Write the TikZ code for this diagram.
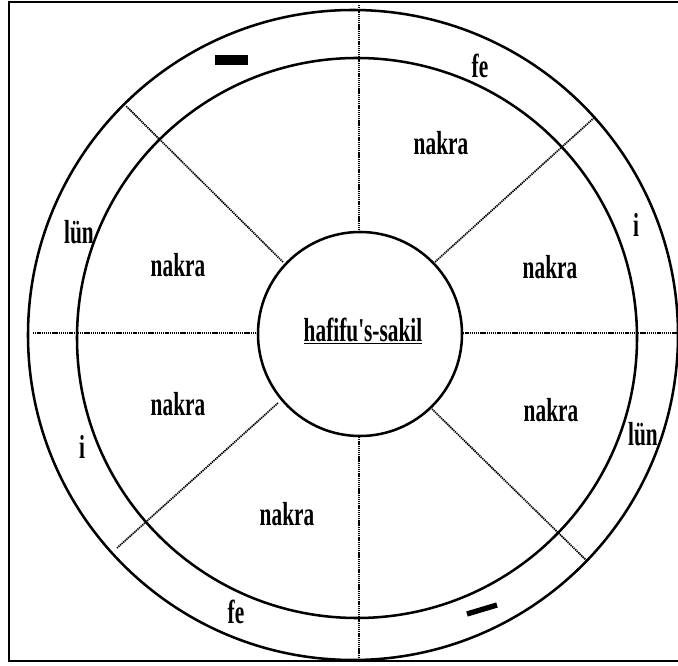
\documentclass[tikz,border=0pt]{standalone}
\usepackage{fontspec}
\newfontfamily\labfont[FakeStretch=0.64]{Liberation Serif}
\begin{document}
\begin{tikzpicture}[x=0.75pt,y=-0.75pt,
  ring/.style={line width=1.9pt},
  divider/.style={line width=1.3pt, dash pattern=on 1pt off 0.6pt},
  lab/.style={font=\labfont\bfseries\fontsize{25}{27}\selectfont, inner sep=0pt},
  bar/.style={line width=4pt}]
\useasboundingbox (0,0) rectangle (678,666);
\fill[white] (0,0) rectangle (678,666);
% frame
\draw[line width=1.8pt] (680,2) -- (9,2) -- (9,661) -- (680,661);
% circles
\draw[ring] (353,335) circle [radius=325];
\draw[ring] (357,338) circle [radius=280];
\node[draw, circle, line width=1.9pt, minimum size=204*0.75pt, inner sep=0pt] (hub) at (360,334) {};
% dividers
\coordinate (C) at (359,333);
\coordinate (vt) at (359,5);    \coordinate (vta) at (359,231);
\coordinate (vb) at (359,661);  \coordinate (vba) at (359,437);
\coordinate (hl) at (33,333);   \coordinate (hla) at (258,333);
\coordinate (hr) at (678,333);  \coordinate (hra) at (461,333);
\draw[divider] (vt) -- (vta);
\draw[divider] (vba) -- (vb);
\draw[divider] (hl) -- (hla);
\draw[divider] (hra) -- (hr);
\coordinate (nwa) at (283,262); \coordinate (nwb) at (126,106);
\coordinate (nea) at (435,262); \coordinate (neb) at (595,117);
\coordinate (swa) at (278,403); \coordinate (swb) at (117,548);
\coordinate (sea) at (432,409); \coordinate (seb) at (586,560);
\draw[divider] (nwa) -- (nwb);
\draw[divider] (nea) -- (neb);
\draw[divider] (swa) -- (swb);
\draw[divider] (sea) -- (seb);
% center label
\node[lab] (center) at (363,331) {\underline{hafifu's-sakil}};
% sector labels
\node[lab] (n1) at (441,143) {nakra};
\node[lab] (n2) at (550,267) {nakra};
\node[lab] (n3) at (551,410) {nakra};
\node[lab] (n4) at (287,514) {nakra};
\node[lab] (n5) at (178,404) {nakra};
\node[lab] (n6) at (178,265) {nakra};
% ring labels
\node[lab] (fe1) at (480,66) {fe};
\node[lab] (i1) at (636,225) {i};
\node[lab] (lun1) at (643,434) {lün};
\node[lab] (fe2) at (236,612) {fe};
\node[lab] (i2) at (82,447) {i};
\node[lab] (lun2) at (79,232) {lün};
% dashes
\coordinate (d1a) at (215,60); \coordinate (d1b) at (248,60);
\draw[line width=8pt] (d1a) -- (d1b);
\coordinate (d2a) at (467,614); \coordinate (d2b) at (497,605);
\draw[bar] (d2a) -- (d2b);
\end{tikzpicture}
\end{document}
